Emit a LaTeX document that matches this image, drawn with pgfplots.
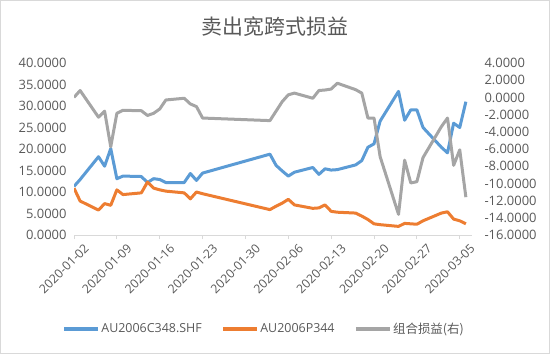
\documentclass[border=0pt]{standalone}
\usepackage{fontspec}
\setmainfont{Open Sans}
\newfontfamily\cjk{Noto Sans CJK SC}
\usepackage{pgfplots}
\pgfplotsset{compat=1.18}
\usepackage{pgfplotstable}
\definecolor{cBlue}{HTML}{5B9BD5}
\definecolor{cOrange}{HTML}{ED7D31}
\definecolor{cGray}{HTML}{A5A5A5}
\definecolor{txt}{HTML}{595959}
\definecolor{axl}{HTML}{D9D9D9}

% d = days since 2020-01-02
\pgfplotstableread{
d C P G
0 11.3 10.9 0.0
1 12.9 7.9 0.8
4 18.2 5.8 -2.3
5 16.0 7.3 -1.6
6 20.1 6.9 -5.75
7 13.1 10.5 -1.85
8 13.7 9.4 -1.5
11 13.6 9.8 -1.55
12 12.2 12.3 -2.1
13 13.1 10.9 -1.85
14 12.9 10.5 -1.35
15 12.2 10.2 -0.3
18 12.2 9.8 -0.1
19 14.3 8.4 -0.76
20 12.7 10.0 -1.07
21 14.4 9.6 -2.4
32 18.8 5.9 -2.7
33 16.2 6.7 -1.6
34 14.9 7.4 -0.5
35 13.7 8.3 0.3
36 14.6 7.0 0.5
39 15.7 6.2 -0.1
40 14.1 6.3 0.8
41 15.4 7.0 0.86
42 15.1 5.5 0.97
43 15.2 5.3 1.65
46 16.3 5.1 0.9
47 17.3 4.4 0.5
48 20.4 3.6 -2.4
49 21.2 2.6 -2.4
50 26.5 2.4 -6.9
53 33.4 2.0 -13.6
54 26.7 2.7 -7.3
55 29.1 2.6 -9.95
56 29.1 2.5 -9.8
57 25.0 3.3 -7.0
60 20.4 5.1 -3.4
61 19.1 5.4 -2.4
62 26.0 3.7 -7.9
63 25.0 3.3 -6.1
64 31.0 2.6 -11.6
}\datatable

\pgfplotsset{
  common/.style={
    at={(74bp,119bp)}, anchor=south west, scale only axis,
    width=398bp, height=172bp, xmin=0, xmax=65,
    tick label style={font=\fontsize{13}{15}\selectfont, text=txt},
    /pgf/number format/assume math mode=true,
  }
}

\begin{document}
\begin{tikzpicture}
\path[use as bounding box] (0bp,0bp) rectangle (550bp,354bp);
\draw[axl, line width=1bp] (0.5bp,0.5bp) rectangle (549.5bp,353.5bp);
\node[text=txt, font=\cjk\fontsize{21}{24}\selectfont] at (275bp,327bp) {卖出宽跨式损益};

\begin{axis}[common,
  ymin=0, ymax=40,
  axis x line*=bottom, axis y line*=left,
  x axis line style={axl, line width=1bp},
  y axis line style={draw=none},
  xtick={0,7,14,21,28,35,42,49,56,63},
  xticklabels={2020-01-02,2020-01-09,2020-01-16,2020-01-23,2020-01-30,2020-02-06,2020-02-13,2020-02-20,2020-02-27,2020-03-05},
  xticklabel style={rotate=45, anchor=east, font=\fontsize{12.3}{13}\selectfont, inner sep=0pt, xshift=4bp, yshift=-14bp},
  x tick style={axl, line width=1bp}, tick align=outside, major tick length=4bp,
  ytick={0,5,...,40},
  y tick style={draw=none},
  yticklabel={\pgfmathprintnumber[fixed,fixed zerofill,precision=4]{\tick}},
  legend style={at={(0.477,-0.547)}, anchor=center, draw=none, fill=none,
    font=\fontsize{12.5}{14}\selectfont, text=txt, legend columns=3,
    /tikz/every even column/.append style={column sep=18bp},
    nodes={inner sep=1.5bp}},
  legend image code/.code={\draw[#1, line width=3.5bp] (0bp,0bp) -- (34bp,0bp);},
]
\addplot[cBlue, line width=3bp, line join=round, no marks] table[x=d, y=C] {\datatable};
\addlegendentry{AU2006C348.SHF}
\addplot[cOrange, line width=3bp, line join=round, no marks] table[x=d, y=P] {\datatable};
\addlegendentry{AU2006P344}
\addlegendimage{cGray, line width=3bp}
\addlegendentry{\cjk 组合损益(右)}
\end{axis}

\begin{axis}[common,
  ymin=-16, ymax=4,
  axis x line=none, axis y line*=right,
  y axis line style={draw=none},
  ytick={-16,-14,...,4},
  y tick style={draw=none},
  yticklabel style={xshift=9bp},
  yticklabel={\pgfmathprintnumber[fixed,fixed zerofill,precision=4]{\tick}},
]
\addplot[cGray, line width=3bp, line join=round, no marks] table[x=d, y=G] {\datatable};
\end{axis}
\end{tikzpicture}
\end{document}
